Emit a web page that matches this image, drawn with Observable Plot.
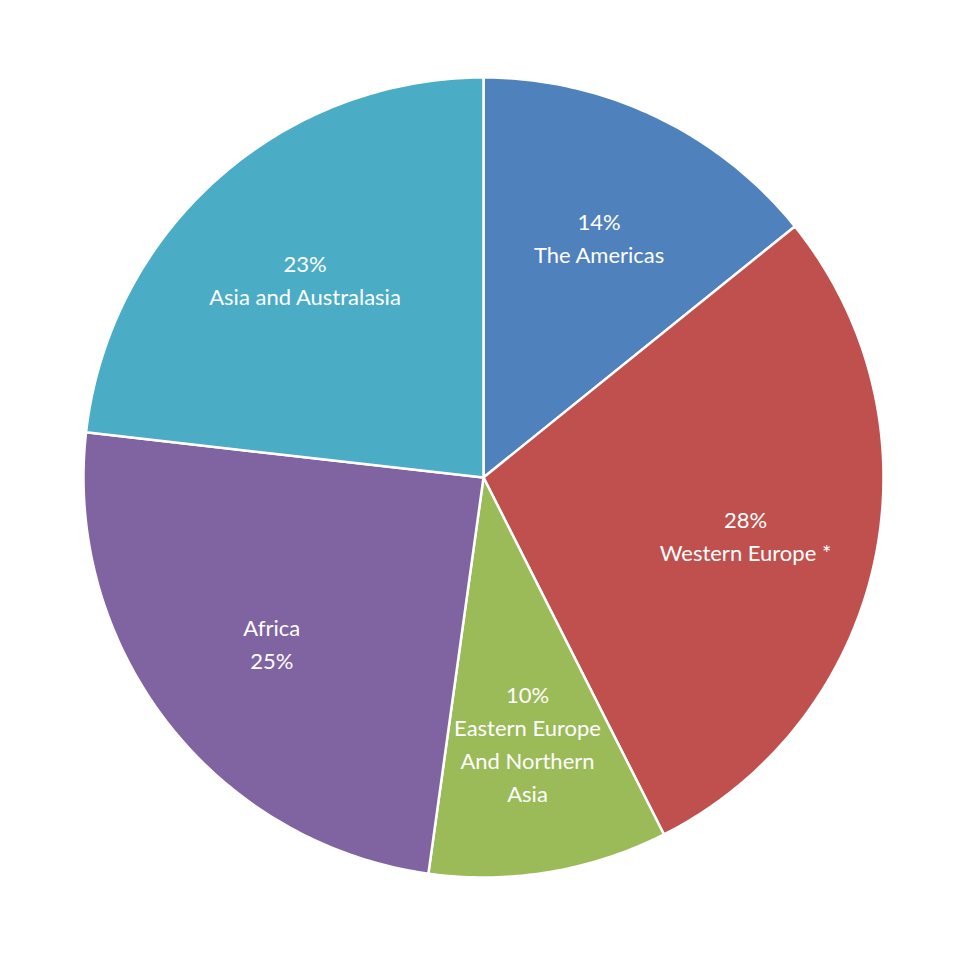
<!DOCTYPE html>
<html>
<head>
<meta charset="utf-8">
<script src="https://cdn.jsdelivr.net/npm/d3@7"></script>
<script src="https://cdn.jsdelivr.net/npm/@observablehq/plot@0.6"></script>
<style>
  html, body { margin: 0; padding: 0; background: #ffffff; }
</style>
</head>
<body>
<div id="chart"></div>
<script>
// Data (clockwise from 12 o'clock)
const regions = ["The Americas", "Western Europe *", "Eastern Europe And Northern Asia", "Africa", "Asia and Australasia"];
const shares = [14.2, 28.35, 9.65, 24.6, 23.2];
const labels = ["14%\nThe Americas", "28%\nWestern Europe *", "10%\nEastern Europe\nAnd Northern\nAsia", "Africa\n25%", "23%\nAsia and Australasia"];
const colors = ["#4F81BD", "#C0504D", "#9BBB59", "#8064A2", "#4BACC6"];

const W = 968, H = 968, R = 400, CX = 483, CY = 477;

const pie = d3.pie().sort(null).value(d => d.value);
const arcs = pie(regions.map((name, i) => ({name, value: shares[i], label: labels[i]})));

// Build polygon points for each slice (unit radius)
const pts = [];
arcs.forEach(a => {
  const n = Math.max(8, Math.ceil((a.endAngle - a.startAngle) * 80));
  pts.push({name: a.data.name, x: 0, y: 0});
  for (let k = 0; k <= n; k++) {
    const t = a.startAngle + (a.endAngle - a.startAngle) * k / n;
    pts.push({name: a.data.name, x: Math.sin(t), y: Math.cos(t)});
  }
  pts.push({name: a.data.name, x: 0, y: 0});
});

const labelR = 0.67;
const labelData = arcs.map(a => {
  const m = (a.startAngle + a.endAngle) / 2;
  return {name: a.data.name, label: a.data.label, x: labelR * Math.sin(m), y: labelR * Math.cos(m)};
});

const chart = Plot.plot({
  width: W,
  height: H,
  margin: 0,
  x: {domain: [-CX / R, (W - CX) / R], range: [0, W], axis: null},
  y: {domain: [-(H - CY) / R, CY / R], range: [H, 0], axis: null},
  color: {domain: regions, range: colors},
  style: {background: "#ffffff", fontFamily: "Lato, 'Open Sans', sans-serif"},
  marks: [
    Plot.line(pts, {x: "x", y: "y", z: "name", fill: "name", stroke: "#ffffff", strokeWidth: 2.5, strokeLinejoin: "round", curve: "linear"}),
    Plot.text(labelData, {x: "x", y: "y", text: "label", fill: "#ffffff", fontSize: 22, lineHeight: 1.5, textAnchor: "middle"})
  ]
});

document.getElementById("chart").appendChild(chart);
</script>
</body>
</html>
